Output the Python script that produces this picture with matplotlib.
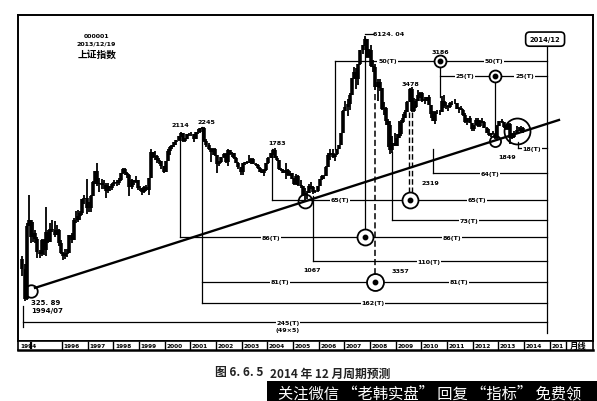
import numpy as np
import matplotlib
matplotlib.use("Agg")
import matplotlib.pyplot as plt
from matplotlib.patches import Rectangle

plt.rcParams['font.family'] = ['DejaVu Sans', 'Noto Sans CJK SC']

# ---------------- data: Shanghai Composite monthly, 1994/06 .. 2013/12 ----------------
first_month = 1994 + 5 / 12          # June 1994
first_open = 520

high = [
    540, 490, 778, 1052, 800, 780, 720,                                   # 1994 Jun-Dec
    660, 575, 650, 645, 926, 720, 770, 800, 790, 760, 725, 640,           # 1995
    560, 580, 580, 680, 690, 820, 880, 890, 880, 1010, 1060, 1258,        # 1996
    980, 1050, 1230, 1380, 1510, 1270, 1260, 1240, 1210, 1200, 1170, 1200,  # 1997
    1240, 1240, 1270, 1350, 1420, 1422, 1360, 1330, 1260, 1250, 1300, 1250,  # 1998
    1160, 1140, 1170, 1180, 1280, 1756, 1690, 1720, 1640, 1580, 1540, 1450,  # 1999
    1540, 1760, 1810, 1840, 1900, 1940, 2030, 2114, 2100, 1990, 2080, 2100,  # 2000
    2110, 2070, 2120, 2190, 2215, 2245, 2230, 1960, 1870, 1780, 1770, 1780,  # 2001
    1650, 1540, 1610, 1680, 1670, 1748, 1740, 1690, 1670, 1600, 1520, 1440,  # 2002
    1510, 1520, 1540, 1650, 1580, 1580, 1510, 1480, 1430, 1400, 1400, 1500,  # 2003
    1600, 1680, 1760, 1783, 1620, 1560, 1420, 1410, 1500, 1400, 1380, 1350,  # 2004
    1270, 1330, 1320, 1240, 1160, 1140, 1100, 1190, 1223, 1160, 1110, 1170,  # 2005
    1260, 1310, 1310, 1450, 1680, 1760, 1757, 1660, 1760, 1840, 2100, 2698,  # 2006
    2990, 3050, 3250, 3860, 4335, 4300, 4480, 5220, 5560, 6124, 5920, 5300,  # 2007
    5522, 4690, 4470, 3790, 3790, 3440, 2950, 2790, 2440, 2380, 2030, 2100,  # 2008
    2080, 2400, 2430, 2580, 2690, 2990, 3450, 3478, 3080, 3040, 3360, 3300,  # 2009
    3300, 3110, 3130, 3180, 2870, 2680, 2680, 2700, 2700, 3160, 3186, 2940,  # 2010
    2860, 2940, 3000, 3067, 2930, 2780, 2830, 2740, 2600, 2480, 2540, 2350,  # 2011
    2300, 2480, 2480, 2420, 2460, 2380, 2250, 2190, 2100, 2130, 2080, 2280,  # 2012
    2400, 2444, 2370, 2260, 2330, 2330, 2090, 2150, 2270, 2240, 2260, 2240,  # 2013
]
low = [
    430, 325.89, 330, 770, 620, 630, 617,                                 # 1994
    524, 524, 540, 545, 540, 620, 630, 700, 660, 680, 600, 550,           # 1995
    512, 520, 530, 555, 620, 640, 770, 780, 800, 850, 960, 855,           # 1996
    870, 870, 1040, 1190, 1160, 1090, 1130, 1130, 1025, 1080, 1100, 1110,  # 1997
    1160, 1170, 1180, 1230, 1330, 1320, 1280, 1040, 1130, 1180, 1200, 1110,  # 1998
    1100, 1060, 1080, 1100, 1050, 1270, 1580, 1560, 1510, 1490, 1400, 1341,  # 1999
    1360, 1530, 1650, 1750, 1790, 1840, 1920, 2000, 1900, 1890, 1960, 2030,  # 2000
    2030, 1890, 1960, 2070, 2100, 2180, 1900, 1800, 1740, 1514, 1650, 1630,  # 2001
    1339, 1450, 1500, 1590, 1500, 1460, 1640, 1600, 1570, 1500, 1410, 1311,  # 2002
    1320, 1470, 1480, 1510, 1480, 1480, 1450, 1400, 1360, 1340, 1307, 1380,  # 2003
    1490, 1580, 1640, 1580, 1530, 1390, 1370, 1340, 1260, 1300, 1300, 1259,  # 2004
    1180, 1180, 1160, 1140, 1040, 998, 1004, 1080, 1130, 1067, 1074, 1090,   # 2005
    1160, 1250, 1260, 1300, 1430, 1560, 1580, 1540, 1650, 1750, 1830, 2090,  # 2006
    2680, 2540, 2700, 3180, 3820, 3400, 3560, 4450, 5000, 5460, 4780, 4780,  # 2007
    4330, 4130, 3357, 2990, 3330, 2690, 2570, 2280, 1800, 1664, 1680, 1814,  # 2008
    1840, 1980, 2030, 2350, 2460, 2630, 2940, 2640, 2640, 2760, 3000, 3080,  # 2009
    2960, 2890, 2990, 2850, 2480, 2380, 2319, 2580, 2570, 2650, 2760, 2720,  # 2010
    2660, 2760, 2860, 2880, 2730, 2610, 2690, 2530, 2350, 2300, 2330, 2130,  # 2011
    2130, 2290, 2240, 2240, 2340, 2220, 2100, 2030, 1999, 2060, 1960, 1949,  # 2012
    2260, 2330, 2210, 2160, 2160, 1849, 1950, 1990, 2070, 2130, 2120, 2100,  # 2013
]
close = [
    467, 333.9, 750, 796, 660, 690, 648,                                  # 1994
    562, 549, 642, 577, 700, 630, 725, 714, 680, 716, 620, 555,           # 1995
    537, 550, 558, 680, 644, 803, 800, 840, 868, 1005, 1020, 917,         # 1996
    915, 1045, 1224, 1380, 1194, 1199, 1174, 1182, 1097, 1159, 1137, 1194,  # 1997
    1223, 1206, 1243, 1343, 1411, 1339, 1323, 1150, 1242, 1218, 1247, 1146,  # 1998
    1134, 1090, 1158, 1120, 1279, 1689, 1601, 1627, 1556, 1532, 1447, 1366,  # 1999
    1535, 1714, 1800, 1836, 1894, 1928, 2023, 2097, 1910, 1961, 2070, 2073,  # 2000
    2065, 1960, 2112, 2119, 2214, 2218, 1920, 1834, 1764, 1689, 1747, 1646,  # 2001
    1490, 1524, 1603, 1666, 1516, 1732, 1655, 1670, 1581, 1507, 1434, 1357,  # 2002
    1500, 1512, 1510, 1521, 1576, 1487, 1476, 1421, 1367, 1348, 1397, 1497,  # 2003
    1590, 1675, 1742, 1595, 1555, 1399, 1386, 1342, 1396, 1320, 1340, 1266,  # 2004
    1191, 1306, 1181, 1159, 1060, 1080, 1083, 1162, 1155, 1092, 1099, 1161,  # 2005
    1258, 1299, 1298, 1440, 1641, 1672, 1612, 1658, 1752, 1837, 2099, 2675,  # 2006
    2786, 2881, 3183, 3841, 4109, 3820, 4471, 5218, 5552, 5954, 4871, 5261,  # 2007
    4383, 4348, 3472, 3693, 3433, 2736, 2775, 2397, 2293, 1729, 1871, 1821,  # 2008
    1991, 2082, 2373, 2477, 2632, 2959, 3412, 2667, 2779, 2996, 3195, 3277,  # 2009
    2989, 3051, 3110, 2870, 2592, 2398, 2638, 2639, 2655, 2979, 2820, 2808,  # 2010
    2791, 2905, 2928, 2911, 2743, 2762, 2701, 2567, 2359, 2468, 2333, 2199,  # 2011
    2292, 2428, 2262, 2396, 2373, 2225, 2103, 2047, 2086, 2069, 1980, 2269,  # 2012
    2385, 2365, 2237, 2178, 2301, 1979, 1994, 2098, 2175, 2142, 2221, 2116,  # 2013
]

year_labels = ['1994', '1996', '1997', '1998', '1999', '2000', '2001', '2002', '2003',
               '2004', '2005', '2006', '2007', '2008', '2009', '2010', '2011', '2012',
               '2013', '2014', '201']

END = 2014.9   # 2014/12 target line

# ---------------- figure ----------------
W, H = 597, 402
fig = plt.figure(figsize=(W / 100, H / 100), dpi=100)
fig.patch.set_facecolor('white')


def fr(x0, y0, x1, y1):
    return [x0 / W, 1 - y1 / H, (x1 - x0) / W, (y1 - y0) / H]


ax = fig.add_axes(fr(18, 16, 593, 342))
ax.set_yscale('log')
ax.set_xlim(1994.286, 2016.686)
ax.set_ylim(209.8, 7726)
ax.set_xticks([])
ax.set_xticks([], minor=True)
ax.set_yticks([])
ax.set_yticks([], minor=True)
for s in ax.spines.values():
    s.set_linewidth(1.4)

hi = np.array(high, float)
lo = np.array(low, float)
cl = np.array(close, float)
op = np.concatenate([[first_open], cl[:-1]])
t = first_month + 1 / 24 + np.arange(len(cl)) / 12
ax.vlines(t, np.minimum.reduce([lo, op, cl]), np.maximum.reduce([hi, op, cl]),
          color='black', lw=1.3, zorder=2)
ax.vlines(t, np.minimum(op, cl), np.maximum(op, cl), color='black', lw=2.6, zorder=2)

tr = ax.get_xaxis_transform()
LW = 0.9
FS = 4.6
lbl_kw = dict(fontsize=FS, fontweight='bold', ha='center', va='center',
              transform=tr, zorder=6)
box_kw = dict(fc='white', ec='none', pad=0.5)

# trend line
ax.plot([1994.95, 2015.36], [0.163, 0.678], color='black', lw=1.7, transform=tr, zorder=4)

# horizontal cycle rules: (start, level, [(label x, text), ...])
rules = [
    (2006.63, 0.859, [(2008.68, '50(T)'), (2012.83, '50(T)')]),
    (2010.73, 0.813, [(2011.70, '25(T)'), (2014.02, '25(T)')]),
    (2013.76, 0.592, [(2014.31, '18(T)')]),
    (2010.45, 0.515, [(2012.67, '64(T)')]),
    (2004.18, 0.433, [(2006.83, '65(T)'), (2012.17, '65(T)')]),
    (2008.85, 0.371, [(2011.86, '73(T)')]),
    (2000.60, 0.319, [(2004.14, '86(T)'), (2011.19, '86(T)')]),
    (2005.78, 0.245, [(2010.30, '110(T)')]),
    (2001.45, 0.181, [(2004.49, '81(T)'), (2011.47, '81(T)')]),
    (2001.45, 0.117, [(2008.12, '162(T)')]),
    (1994.48, 0.058, [(2004.80, '245(T)')]),
]
for x0, lev, labs in rules:
    ax.plot([x0, END], [lev, lev], color='black', lw=LW, transform=tr, zorder=3)
    for lx, txt in labs:
        ax.text(lx, lev, txt, bbox=box_kw, **lbl_kw)
ax.text(2004.80, 0.036, '(49×5)', **lbl_kw)

# vertical connectors: (x, y_top, y_bottom)
verts = [
    (2000.60, 0.626, 0.319), (2001.45, 0.656, 0.117), (2004.18, 0.589, 0.433),
    (2005.78, 0.445, 0.245), (2006.63, 0.859, 0.589), (2007.80, 0.930, 0.319),
    (2008.85, 0.580, 0.371), (2010.45, 0.589, 0.515), (2010.73, 0.859, 0.748),
    (2012.87, 0.813, 0.626), (2013.76, 0.610, 0.592), (END, 0.908, 0.025),
    (1994.48, 0.107, 0.043),
]
for x, y0, y1 in verts:
    ax.plot([x, x], [y0, y1], color='black', lw=LW, transform=tr, zorder=3)

# dashed connectors
ax.plot([2008.19, 2008.19], [0.758, 0.181], color='black', lw=1.1,
        ls=(0, (4, 2)), transform=tr, zorder=3)
for dx in (2009.50, 2009.63):
    ax.plot([dx, dx], [0.702, 0.433], color='black', lw=1.0,
            ls=(0, (4, 2)), transform=tr, zorder=3)

# circles with centre dot
dot_circles = [(2007.80, 0.319, 11.5), (2008.19, 0.181, 12.2), (2009.56, 0.433, 11.5),
               (2010.73, 0.859, 8.6), (2012.87, 0.813, 8.6)]
for x, y, ms in dot_circles:
    ax.plot(x, y, 'o', ms=ms, mfc='white', mec='black', mew=1.3, transform=tr, zorder=5)
    ax.plot(x, y, 'o', ms=3.2, mfc='black', mec='black', transform=tr, zorder=5)

# open circles
open_circles = [(1994.79, 0.153, 9.0), (2005.47, 0.429, 10.0),
                (2012.87, 0.613, 8.0), (2013.72, 0.644, 18.7)]
for x, y, ms in open_circles:
    ax.plot(x, y, 'o', ms=ms, mfc='none', mec='black', mew=1.3, transform=tr, zorder=5)

# price labels
price_labels = [(2000.60, 0.663, '2114'), (2001.61, 0.672, '2245'), (2004.38, 0.610, '1783'),
                (2010.73, 0.887, '3186'), (2009.56, 0.791, '3478'), (2013.34, 0.567, '1849'),
                (2010.37, 0.485, '2319'), (2005.74, 0.218, '1067'), (2009.17, 0.215, '3357')]
for x, y, txt in price_labels:
    ax.text(x, y, txt, **lbl_kw)
ax.plot([2007.80, 2008.12], [0.942, 0.942], color='black', lw=LW, transform=tr, zorder=3)
ax.text(2008.13, 0.942, '6124. 04', fontsize=FS, fontweight='bold', ha='left',
        va='center', transform=tr, zorder=6)
ax.text(1994.79, 0.120, '325. 89', fontsize=FS + 0.4, fontweight='bold', ha='left',
        va='center', transform=tr, zorder=6)
ax.text(1994.79, 0.095, '1994/07', fontsize=FS + 0.4, fontweight='bold', ha='left',
        va='center', transform=tr, zorder=6)
ax.text(2014.82, 0.926, '2014/12', fontsize=FS + 0.3, fontweight='bold', ha='center',
        va='center', transform=tr, zorder=6,
        bbox=dict(boxstyle='round,pad=0.6', fc='white', ec='black', lw=1.2))

# title block
fig.text(97 / W, 1 - 37 / H, '000001', fontsize=4.5, fontweight='bold', ha='center', va='center')
fig.text(96 / W, 1 - 44 / H, '2013/12/19', fontsize=4.5, fontweight='bold', ha='center', va='center')
fig.text(97 / W, 1 - 55 / H, '上证指数', fontsize=7, fontweight='bold', ha='center', va='center',
         family=['Noto Sans CJK SC', 'DejaVu Sans'])

# ---------------- year strip ----------------
ax2 = fig.add_axes(fr(18, 342, 593, 351))
ax2.set_xlim(1994.286, 2016.686)
ax2.set_ylim(0, 1)
ax2.set_xticks([])
ax2.set_yticks([])
for s in ax2.spines.values():
    s.set_linewidth(1.2)
ax2.spines['bottom'].set_linewidth(1.8)
seps = list(range(1996, 2016)) + [2015.63]
ax2.vlines(seps, 0, 1, color='black', lw=1.0)
label_x = [1994.33] + [float(y) for y in range(1996, 2016)]
for x, txt in zip(label_x, year_labels):
    ax2.text(x + 0.06, 0.5, txt, fontsize=4.2, fontweight='bold', ha='left', va='center')
ax2.vlines([1994.78], 0.1, 0.9, color='black', lw=1.6)
ax2.text(2015.80, 0.5, '月线', fontsize=6, fontweight='bold', ha='left', va='center',
         family=['Noto Sans CJK SC', 'DejaVu Sans'])

# ---------------- caption and banner ----------------
cjk = ['Noto Sans CJK SC', 'DejaVu Sans']
fig.text(215 / W, 1 - 373 / H, '图 6. 6. 5', fontsize=8.5, fontweight='bold', ha='left',
         va='center', family=cjk, color='#222222')
fig.text(270 / W, 1 - 374 / H, '2014 年 12 月周期预测', fontsize=8.5, fontweight='bold',
         ha='left', va='center', family=cjk, color='#222222')
fig.patches.append(Rectangle((267 / W, 0), (W - 267) / W, (402 - 382) / H,
                             transform=fig.transFigure, fc='black', ec='none', zorder=10))
fig.text(430 / W, 1 - 394 / H, '关注微信 “老韩实盘” 回复 “指标” 免费领', fontsize=11,
         ha='center', va='center', family=cjk, color='white', zorder=11)

fig.savefig('out.png', dpi=100)
